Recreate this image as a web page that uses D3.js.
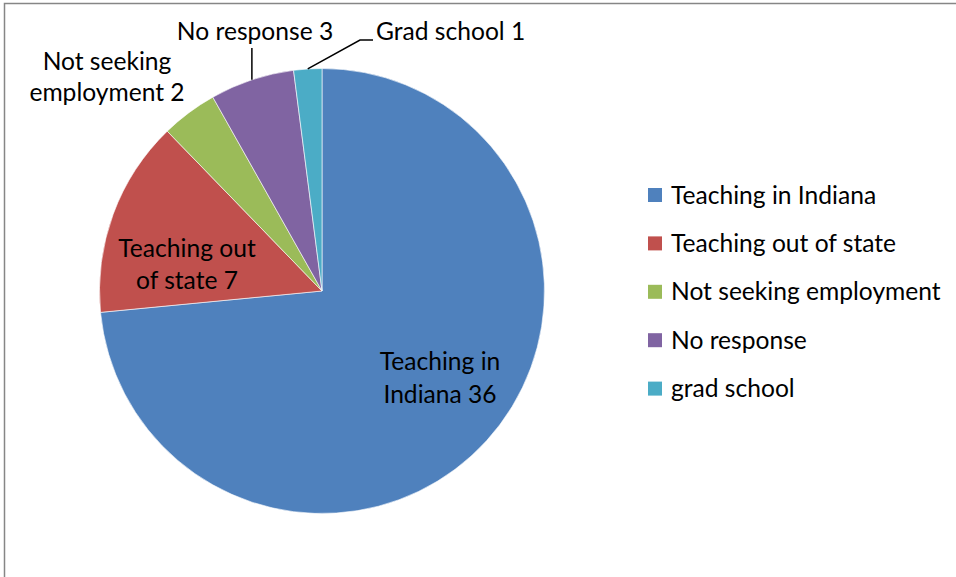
<!DOCTYPE html>
<html><head><meta charset="utf-8">
<script src="https://cdn.jsdelivr.net/npm/d3@7"></script>
<style>
html,body{margin:0;padding:0;background:#fff;}
svg{display:block;}
text{font-family:Lato, "Noto Sans", sans-serif;fill:#000;}
</style></head><body>
<svg id="chart" width="956" height="577"></svg>
<script>
// data
const categories = ["Teaching in Indiana","Teaching out of state","Not seeking employment","No response","grad school"];
const values = [36, 7, 2, 3, 1];
const colors = ["#4F81BD","#C0504D","#9BBB59","#8064A2","#4BACC6"];
const dataLabels = [["Teaching in","Indiana 36"],["Teaching out","of state 7"],["Not seeking","employment 2"],["No response 3"],["Grad school 1"]];

const W = 956, H = 577;
const cx = 322, cy = 291, R = 222.5;
const fontSize = 24.6;

const svg = d3.select("#chart");
// frame
svg.append("path").attr("d", `M4.5,${H} L4.5,3.5 L${W},3.5`).attr("fill","none").attr("stroke","#868686").attr("stroke-width",1.5);

const pie = d3.pie().sort(null).value(d => d)(values);
const arc = d3.arc().innerRadius(0).outerRadius(R);
const g = svg.append("g").attr("transform", `translate(${cx},${cy})`);
g.selectAll("path.slice").data(pie).join("path").attr("class","slice")
  .attr("d", arc).attr("fill", (d,i) => colors[i]).attr("stroke","#fff").attr("stroke-width",0.6);

// label layout (relative to pie center)
const edge = d3.arc().innerRadius(R).outerRadius(R);
const labelPos = [
  {x:118, y:79, anchor:"middle", lh:33},
  {x:-135, y:-34, anchor:"middle", lh:32},
  {x:-215, y:-221, anchor:"middle", lh:31},
  {x:-67, y:-251, anchor:"middle", lh:32},
  {x:54, y:-251, anchor:"start", lh:32}
];
pie.forEach((d,i) => {
  const p = labelPos[i];
  const t = g.append("text").attr("text-anchor", p.anchor).style("font-size", fontSize+"px");
  dataLabels[i].forEach((s,j) => t.append("tspan").attr("x", p.x).attr("y", p.y + j*p.lh).text(s));
});
// leader lines
const e3 = edge.centroid(pie[3]);
g.append("path").attr("d", `M${e3[0]},${e3[1]} L${e3[0]},-243`).attr("stroke","#000").attr("fill","none").attr("stroke-width",1.5);
const e4 = edge.centroid(pie[4]);
g.append("path").attr("d", `M${e4[0]},${e4[1]} L38,-251 L51,-251`).attr("stroke","#000").attr("fill","none").attr("stroke-width",1.5);

// legend
const lg = svg.append("g").attr("transform","translate(648,188)");
categories.forEach((c,i) => {
  const row = lg.append("g").attr("transform", `translate(0,${i*48.4})`);
  row.append("rect").attr("width",14).attr("height",14).attr("fill",colors[i]);
  row.append("text").attr("x",23).attr("y",15.5).style("font-size",fontSize+"px").text(c);
});
</script>
</body></html>
